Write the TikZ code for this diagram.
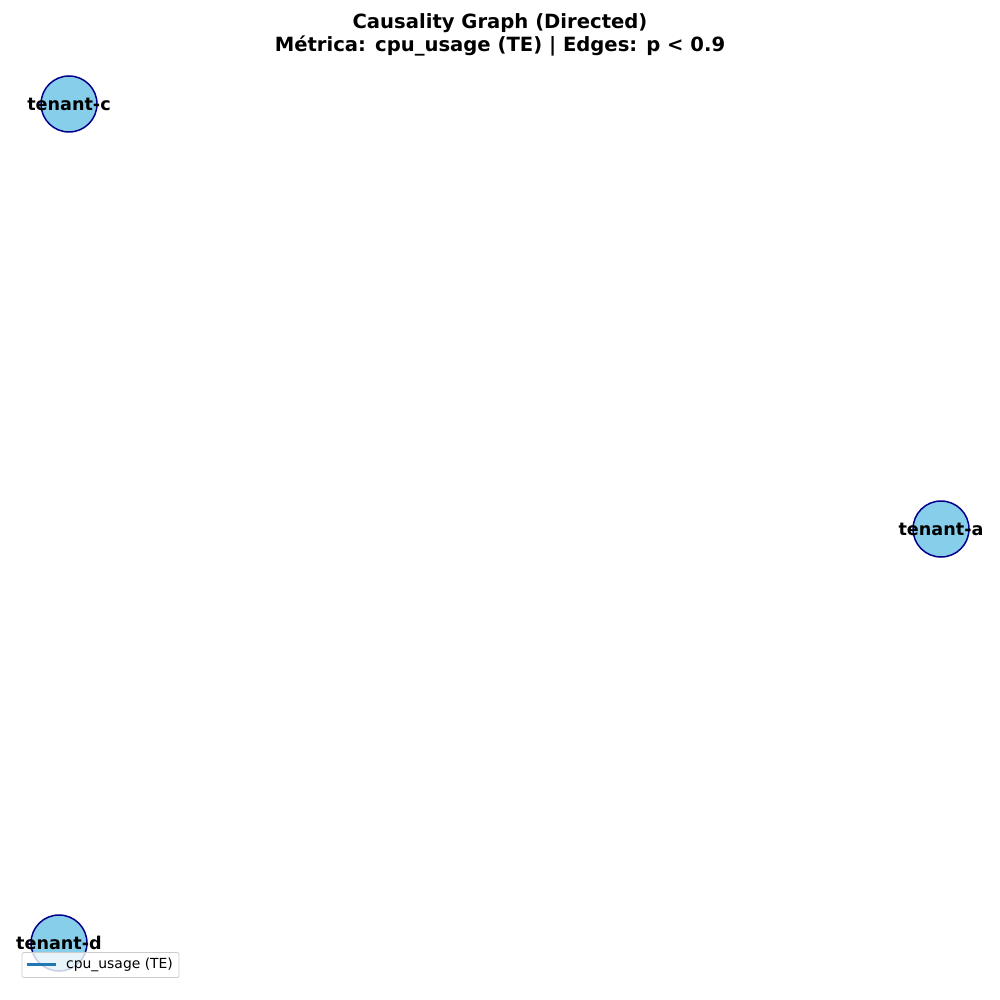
\documentclass[tikz,border=0pt]{standalone}
\usepackage{fontspec}
\setmainfont{DejaVu Sans}
\definecolor{nodefill}{RGB}{135,206,235}
\definecolor{nodeedge}{RGB}{0,0,139}
\definecolor{legline}{RGB}{31,119,180}
\definecolor{legedge}{RGB}{204,204,204}
\begin{document}
\begin{tikzpicture}[x=1pt,y=-1pt,
  tnode/.style={circle, minimum size=56pt, inner sep=0pt, fill=nodefill, draw=nodeedge, line width=1.5pt},
  tlabel/.style={font=\fontsize{17.6}{19}\selectfont\bfseries, text=black, inner sep=0pt},
  titletext/.style={font=\fontsize{19.6}{23.5}\selectfont\bfseries, align=center, inner sep=0pt}]
\useasboundingbox[fill=white] (0,0) rectangle (1000,1000);
\node[titletext] (title) at (500,35) {Causality Graph (Directed)\\Métrica: cpu\_usage (TE) | Edges: p < 0.9};
\node[tnode] (c) at (69,104) {};
\node[tnode] (a) at (941,529) {};
\node[tnode] (d) at (59,943) {};
\node[tlabel] (lc) at (c) {tenant-c};
\node[tlabel] (la) at (a) {tenant-a};
\node[tlabel] (ld) at (d) {tenant-d};
\node[draw=legedge, fill=white, fill opacity=0.8, rounded corners=2pt, line width=0.8pt, minimum width=157pt, minimum height=25pt, inner sep=0pt] (legend) at (100.5,965) {};
\coordinate (l1) at (27,964);
\coordinate (l2) at (56,964);
\draw[legline, line width=3pt] (l1) -- (l2);
\node[anchor=west, font=\fontsize{13.9}{15}\selectfont, inner sep=0pt] (ltext) at (66,964.5) {cpu\_usage (TE)};
\end{tikzpicture}
\end{document}
